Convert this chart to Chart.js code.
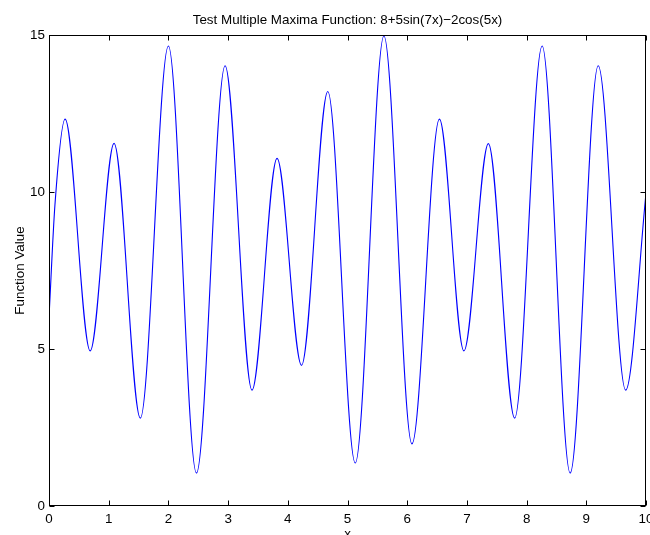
<!DOCTYPE html>
<html><head><meta charset="utf-8">
<script src="https://cdn.jsdelivr.net/npm/chart.js@4/dist/chart.umd.min.js"></script>
<style>html,body{margin:0;padding:0;background:#fff;} canvas{display:block;}</style>
</head><body>
<canvas id="c" width="650" height="535"></canvas>
<script>
const titleText = 'Test Multiple Maxima Function: 8+5sin(7x)\u22122cos(5x)';
const xLabel = 'x';
const yLabel = 'Function Value';
// points (start, extrema, end)
const xValues = [0, 0.1, 0.27, 0.69, 1.09, 1.53, 2.0, 2.47, 2.95, 3.4, 3.82, 4.23, 4.67, 5.13, 5.61, 6.08, 6.54, 6.95, 7.36, 7.8, 8.26, 8.73, 9.2, 9.66, 10];
const yValues = [6.0, 9.6, 12.32, 4.94, 11.55, 2.8, 14.65, 1.05, 14.02, 3.69, 11.07, 4.48, 13.2, 1.37, 14.97, 1.98, 12.32, 4.94, 11.54, 2.8, 14.65, 1.05, 14.02, 3.69, 9.96];
const xTicks = [0, 1, 2, 3, 4, 5, 6, 7, 8, 9, 10];
const yTicks = [0, 5, 10, 15];

const FONT = 'Liberation Sans, Arial, Helvetica, sans-serif';
const FS = 13.4;

const boxPlugin = {
  id: 'matlabBox',
  afterLayout(chart) {
    const t = chart.titleBlock, a = chart.chartArea;
    if (t) { t.left = a.left; t.right = a.right; t.width = a.right - a.left; }
  },
  afterDraw(chart) {
    const {ctx, chartArea: a, scales: {x, y}} = chart;
    ctx.save();
    ctx.strokeStyle = '#000';
    ctx.lineWidth = 1;
    const L = Math.round(a.left) + 0.5, R = Math.round(a.right) - 0.5;
    const T = Math.round(a.top) + 0.5, B = Math.round(a.bottom) - 0.5;
    ctx.strokeRect(L, T, R - L, B - T);
    ctx.beginPath();
    x.ticks.forEach(t => {
      const p = Math.round(x.getPixelForValue(t.value)) + 0.5;
      ctx.moveTo(p, B); ctx.lineTo(p, B - 5);
      ctx.moveTo(p, T); ctx.lineTo(p, T + 5);
    });
    y.ticks.forEach(t => {
      const p = Math.round(y.getPixelForValue(t.value)) + 0.5;
      ctx.moveTo(L, p); ctx.lineTo(L + 5, p);
      ctx.moveTo(R, p); ctx.lineTo(R - 5, p);
    });
    ctx.stroke();
    ctx.restore();
  }
};

new Chart(document.getElementById('c'), {
  type: 'line',
  data: {
    datasets: [{
      data: xValues.map((v, i) => ({x: v, y: yValues[i]})),
      borderColor: '#0000ff',
      borderWidth: 1.1,
      pointRadius: 0,
      fill: false,
      cubicInterpolationMode: 'monotone'
    }]
  },
  options: {
    responsive: false,
    animation: false,
    devicePixelRatio: 1,
    layout: {padding: {left: 0, right: 4, top: 0, bottom: 0}},
    plugins: {
      legend: {display: false},
      tooltip: {enabled: false},
      title: {
        display: true, text: titleText, color: '#000',
        font: {family: FONT, size: FS, weight: 'normal'},
        padding: {top: 12, bottom: 6.92}
      }
    },
    scales: {
      x: {
        type: 'linear', min: 0, max: 10,
        afterBuildTicks: s => { s.ticks = xTicks.map(v => ({value: v})); },
        afterFit: s => { s.height = 29; s.paddingRight = 0; s.paddingLeft = 0; },
        grid: {display: false, drawTicks: false},
        border: {display: false},
        ticks: {color: '#000', font: {family: FONT, size: FS}, padding: 5, autoSkip: false, maxRotation: 0},
        title: {display: true, text: xLabel, color: '#000', font: {family: FONT, size: FS}, padding: {top: 0, bottom: -7}}
      },
      y: {
        type: 'linear', min: 0, max: 15,
        afterBuildTicks: s => { s.ticks = yTicks.map(v => ({value: v})); },
        afterFit: s => { s.width = 49; },
        grid: {display: false, drawTicks: false},
        border: {display: false},
        ticks: {color: '#000', font: {family: FONT, size: FS}, padding: 4, autoSkip: false},
        title: {display: true, text: yLabel, color: '#000', font: {family: FONT, size: FS}, padding: {top: 12, bottom: 0}}
      }
    }
  },
  plugins: [boxPlugin]
});
</script>
</body></html>
